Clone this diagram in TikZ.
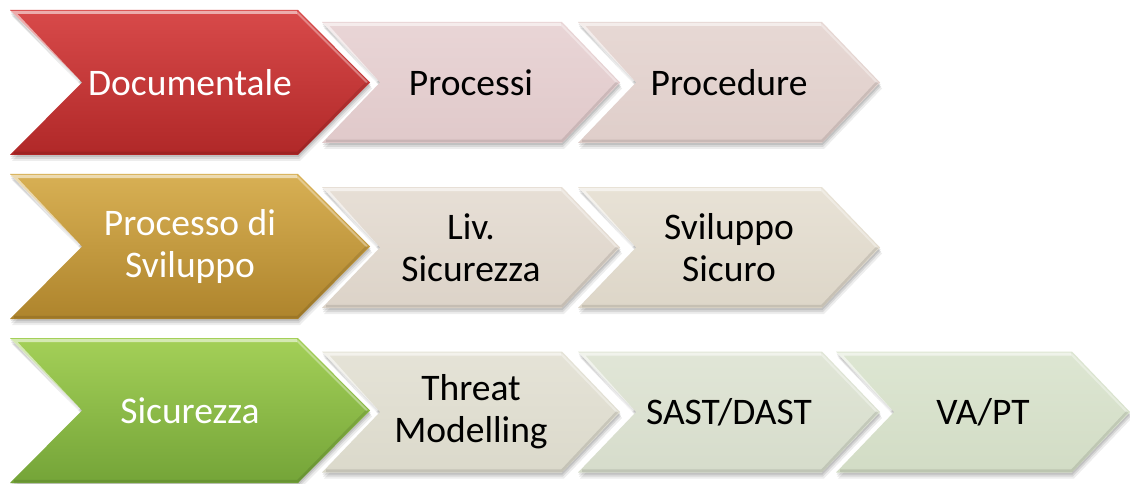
\documentclass[tikz,border=0pt]{standalone}
\usepackage{fontspec}
\setmainfont{Carlito}
\usetikzlibrary{calc}

% palette (top / bottom of each gradient)
\definecolor{redT}{RGB}{216,74,74}     \definecolor{redB}{RGB}{176,40,40}
\definecolor{goldT}{RGB}{216,176,84}   \definecolor{goldB}{RGB}{174,132,44}
\definecolor{greenT}{RGB}{164,208,88}  \definecolor{greenB}{RGB}{116,164,56}
\definecolor{procT}{RGB}{233,213,214}  \definecolor{procB}{RGB}{224,201,202}
\definecolor{procdT}{RGB}{231,216,212} \definecolor{procdB}{RGB}{223,206,202}
\definecolor{livT}{RGB}{231,223,214}   \definecolor{livB}{RGB}{220,211,200}
\definecolor{svT}{RGB}{232,226,214}    \definecolor{svB}{RGB}{221,214,200}
\definecolor{thrT}{RGB}{229,227,215}   \definecolor{thrB}{RGB}{219,217,203}
\definecolor{sastT}{RGB}{225,230,215}  \definecolor{sastB}{RGB}{214,220,203}
\definecolor{vaT}{RGB}{221,230,210}    \definecolor{vaB}{RGB}{210,220,197}

% chevron outline: left x, centre y, width (left edge to tip), half height, point depth
\newcommand\chevpath[5]{%
  (#1,{#2-#4}) -- ({#1+#3-#5},{#2-#4}) -- ({#1+#3},#2) --
  ({#1+#3-#5},{#2+#4}) -- (#1,{#2+#4}) -- ({#1+#5},#2) -- cycle}

% one bevelled chevron with its label
% #1 node name, #2 left x, #3 centre y, #4 width, #5 half height, #6 depth,
% #7 top colour, #8 bottom colour, #9 label (text colour set by \chevtext)
\newcommand\chevtext{black}
\newcommand\chevron[9]{%
  % soft drop shadow
  \fill[black,opacity=0.07] [shift={(2,6)}] \chevpath{#2}{#3}{#4}{#5}{#6};
  \fill[black,opacity=0.09] [shift={(1,4)}] \chevpath{#2}{#3}{#4}{#5}{#6};
  \fill[black,opacity=0.10] [shift={(0.5,2)}] \chevpath{#2}{#3}{#4}{#5}{#6};
  % body
  \shade[top color=#7,bottom color=#8] \chevpath{#2}{#3}{#4}{#5}{#6};
  % light bevel on the upper edges
  \draw[white,opacity=0.55,line width=3,line join=miter]
    ({#2+#6-3},{#3-1}) -- ({#2+4},{#3-#5+2.5}) -- ({#2+#4-#6-1},{#3-#5+2.5});
  \draw[white,opacity=0.35,line width=2]
    ({#2+#4-#6-1},{#3-#5+2.5}) -- ({#2+#4-3},{#3});
  % darker bevel on the lower edges
  \draw[black,opacity=0.10,line width=2.5]
    ({#2+4},{#3+#5-2}) -- ({#2+#4-#6},{#3+#5-2}) -- ({#2+#4-3},{#3});
  \node[text=\chevtext,align=center,font=\fontsize{37.5}{42}\selectfont,
        inner sep=0pt] (#1) at ({#2+#4/2},#3) {#9};
}

\begin{document}
\begin{tikzpicture}[x=1pt,y=-1pt]
  \useasboundingbox (0,0) rectangle (1130,484);
  \fill[white] (0,0) rectangle (1130,484);

  % row 1: Documentale
  \renewcommand\chevtext{black}
  \chevron{processi}{322}{82.5}{298}{60.5}{58}{procT}{procB}{Processi}
  \chevron{procedure}{578}{82.5}{302}{60.5}{58}{procdT}{procdB}{Procedure}
  \renewcommand\chevtext{white}
  \chevron{documentale}{10}{82.5}{360}{72.5}{72}{redT}{redB}{Documentale}

  % row 2: Processo di Sviluppo
  \renewcommand\chevtext{black}
  \chevron{livsic}{322}{247.5}{298}{60.5}{58}{livT}{livB}{Liv.\\Sicurezza}
  \chevron{svsicuro}{578}{247.5}{302}{60.5}{58}{svT}{svB}{Sviluppo\\Sicuro}
  \renewcommand\chevtext{white}
  \chevron{procsvil}{10}{246.5}{360}{72.5}{72}{goldT}{goldB}{Processo di\\Sviluppo}

  % row 3: Sicurezza
  \renewcommand\chevtext{black}
  \chevron{threat}{322}{412}{298}{60.5}{58}{thrT}{thrB}{Threat\\Modelling}
  \chevron{sastdast}{578}{412}{302}{60.5}{58}{sastT}{sastB}{SAST/DAST}
  \chevron{vapt}{836}{412}{294}{60.5}{58}{vaT}{vaB}{VA/PT}
  \renewcommand\chevtext{white}
  \chevron{sicurezza}{10}{410.5}{360}{72.5}{72}{greenT}{greenB}{Sicurezza}
\end{tikzpicture}
\end{document}
